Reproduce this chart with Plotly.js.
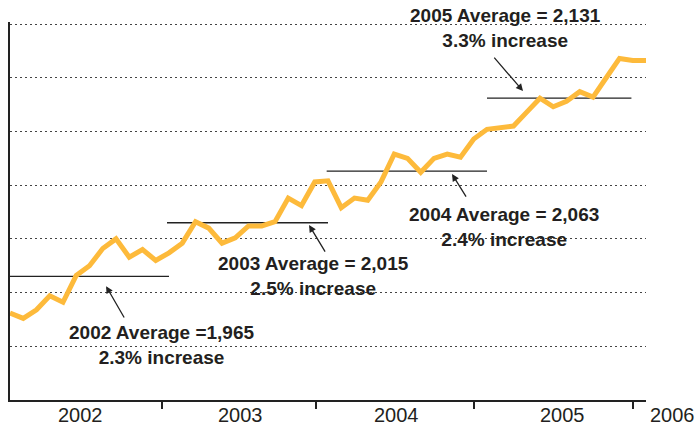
<!DOCTYPE html>
<html>
<head>
<meta charset="utf-8">
<script src="https://cdn.plot.ly/plotly-3.0.1.min.js"></script>
<style>
html,body{margin:0;padding:0;background:#fff;}
#chart{width:697px;height:427px;}
</style>
</head>
<body>
<div id="chart"></div>
<script>
// Monthly values, Jan 2002 .. Jan 2006 (month index 0..48)
const monthIndex = [0,1,2,3,4,5,6,7,8,9,10,11,12,13,14,15,16,17,18,19,20,21,22,23,24,25,26,27,28,29,30,31,32,33,34,35,36,37,38,39,40,41,42,43,44,45,46,47,48];
const values = [1931,1926,1934,1947,1941,1966,1975,1991,2000,1983,1990,1980,
                1987,1996,2016,2010,1996,2001,2012,2012,2016,2038,2031,2053,
                2054,2029,2038,2036,2053,2079,2075,2062,2075,2079,2076,2093,
                2102,2104,2105,2118,2131,2123,2128,2137,2132,2150,2168,2166,2166];

// Yearly averages
const avgYears = ['2002','2003','2004','2005'];
const avgValues = [1965, 2015, 2063, 2131];
const avgStart = [0, 11.85, 23.9, 36];
const avgEnd = [12, 24, 36, 46.9];
const avgChange = ['2.3%', '2.5%', '2.4%', '3.3%'];
const avgLabels = ['2002 Average =1,965', '2003 Average = 2,015', '2004 Average = 2,063', '2005 Average = 2,131'];

// Axis
const yearTicks = [11.47, 23.1, 35.0, 47.0];
const yearLabels = ['2002','2003','2004','2005'];
const yearLabelPos = [5.3, 17.4, 29.2, 41.7];
const lastYearLabel = '2006';
const gridVals = [1850,1900,1950,2000,2050,2100,2150,2200];

// annotation positions (data coords)
const labelPos = [[11.4,1901],[22.94,1965.4],[37.28,2011.5],[37.43,2196.7]];
const arrowHead = [[7.25,1956],[22.57,2012.9],[33.36,2060.4],[38.72,2137.6]];
const arrowTail = [[8.68,1925.4],[23.85,1986.8],[34.49,2038],[36.45,2170.2]];

const textColor = '#231F20';
const fontFam = 'Liberation Sans, Arial, sans-serif';
const traces = [];
avgValues.forEach((v,i)=>{
  traces.push({
    x:[avgStart[i], avgEnd[i]], y:[v, v], type:'scatter', mode:'lines',
    line:{color:'#222', width:1.3}, hoverinfo:'skip', showlegend:false
  });
});
traces.push({
  x: monthIndex, y: values, type:'scatter', mode:'lines',
  line:{color:'#FDBA3B', width:5, shape:'linear'}, showlegend:false
});

const annotations = [];
avgLabels.forEach((t,i)=>{
  annotations.push({
    x: labelPos[i][0], y: labelPos[i][1], xref:'x', yref:'y',
    text: '<b>' + t + '<br>' + avgChange[i] + ' increase</b>',
    showarrow:false, align:'center', xanchor:'center', yanchor:'middle',
    font:{family:fontFam, size:19, color:textColor}
  });
  annotations.push({
    x: arrowHead[i][0], y: arrowHead[i][1], xref:'x', yref:'y',
    ax: arrowTail[i][0], ay: arrowTail[i][1], axref:'x', ayref:'y',
    text:'', showarrow:true, arrowhead:2, arrowsize:1.1, arrowwidth:1.3,
    arrowcolor:'#222', standoff:0, startstandoff:0
  });
});
const yearLabelY = -0.0397;
yearLabels.forEach((t,i)=>{
  annotations.push({
    x: yearLabelPos[i], y: yearLabelY, xref:'x', yref:'paper', text:t,
    showarrow:false, xanchor:'center', yanchor:'middle', borderpad:0,
    font:{family:fontFam, size:20, color:textColor}
  });
});
annotations.push({
  x: 1.041, y: yearLabelY, xref:'paper', yref:'paper', text:lastYearLabel,
  showarrow:false, xanchor:'center', yanchor:'middle', borderpad:0,
  font:{family:fontFam, size:20, color:textColor}
});

const layout = {
  width:697, height:427,
  margin:{l:10, r:51, t:22, b:27, pad:0},
  paper_bgcolor:'#fff', plot_bgcolor:'#fff',
  showlegend:false,
  xaxis:{
    range:[0,48], showgrid:false, zeroline:false,
    showline:true, linecolor:'#222', linewidth:2,
    tickmode:'array', tickvals:yearTicks, ticks:'outside', ticklen:7,
    tickwidth:1.5, tickcolor:'#222', showticklabels:false, fixedrange:true
  },
  yaxis:{
    range:[1850,2201.9], zeroline:false,
    showline:true, linecolor:'#222', linewidth:2.5,
    tickmode:'array', tickvals:gridVals, ticks:'', showticklabels:false,
    showgrid:true, gridcolor:'#444', gridwidth:1, griddash:'1.5px,3.5px', fixedrange:true
  },
  annotations: annotations
};

Plotly.newPlot('chart', traces, layout, {displayModeBar:false, staticPlot:true});
</script>
</body>
</html>
